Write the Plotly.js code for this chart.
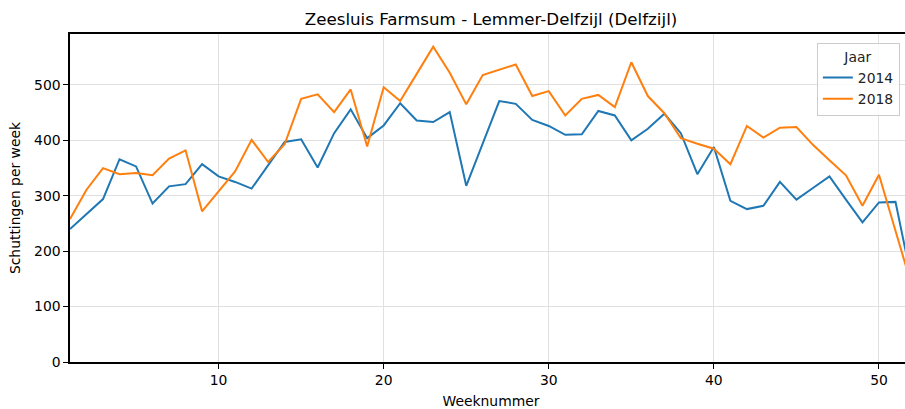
<!DOCTYPE html>
<html>
<head>
<meta charset="utf-8">
<script src="https://cdn.plot.ly/plotly-3.0.1.min.js"></script>
<style>
  html, body { margin: 0; padding: 0; overflow: hidden; background: #fff; }
  #chart { width: 912px; height: 409px; }
</style>
</head>
<body>
<div id="chart"></div>
<script>
const weeks = [1,2,3,4,5,6,7,8,9,10,11,12,13,14,15,16,17,18,19,20,21,22,23,24,25,26,
               27,28,29,30,31,32,33,34,35,36,37,38,39,40,41,42,43,44,45,46,47,48,49,50,51,52];
const values2014 = [240,267,294,366,353,286,317,321,357,335,325,313,355,397,402,351,413,456,404,427,467,436,433,451,318,393,
                    471,466,437,426,410,411,453,445,400,421,448,413,339,388,291,276,282,325,293,314,335,293,252,288,289,145];
const values2018 = [258,311,350,339,341,337,367,382,272,308,344,401,361,393,475,483,451,492,389,496,471,520,569,522,465,518,
                    527,537,480,489,445,475,482,460,541,480,449,404,394,385,357,426,405,423,424,392,364,337,282,338,237,136];
const seriesNames = ["2014", "2018"];
const xTicks = [10, 20, 30, 40, 50];
const yTicks = [0, 100, 200, 300, 400, 500];

const font = "DejaVu Sans, sans-serif";
const traces = [
  { x: weeks, y: values2014, name: seriesNames[0], type: "scatter", mode: "lines",
    line: { color: "#1f77b4", width: 2 } },
  { x: weeks, y: values2018, name: seriesNames[1], type: "scatter", mode: "lines",
    line: { color: "#ff7f0e", width: 2 } }
];

const layout = {
  width: 912, height: 409,
  margin: { l: 70, r: 0, t: 34, b: 47 },
  paper_bgcolor: "#fff", plot_bgcolor: "#fff",
  font: { family: font, size: 13.9, color: "#000" },
  title: { text: "Zeesluis Farmsum - Lemmer-Delfzijl (Delfzijl)", font: { family: font, size: 16.7, color: "#000" },
           x: 0.5, xref: "paper", y: 1 - 19/409, yref: "container", yanchor: "middle" },
  xaxis: {
    range: [1, 52], tickvals: xTicks, ticktext: xTicks.map(String),
    showgrid: true, gridcolor: "#e0e0e0", gridwidth: 1,
    showline: true, linecolor: "#000", linewidth: 1.6, mirror: true,
    ticks: "outside", ticklen: 5, tickwidth: 1, tickcolor: "#000",
    zeroline: false,
    title: { text: "Weeknummer", font: { family: font, size: 13.9 }, standoff: 9 }
  },
  yaxis: {
    range: [0, 592], tickvals: yTicks, ticktext: yTicks.map(String),
    showgrid: true, gridcolor: "#e0e0e0", gridwidth: 1,
    showline: true, linecolor: "#000", linewidth: 1.6, mirror: false,
    ticks: "outside", ticklen: 5, tickwidth: 1, tickcolor: "#000",
    zeroline: false,
    title: { text: "Schuttingen per week", font: { family: font, size: 13.9 }, standoff: 10 }
  },
  showlegend: true,
  legend: {
    x: 0.887, y: 0.9726, xanchor: "left", yanchor: "top",
    bgcolor: "rgba(255,255,255,0.8)", bordercolor: "#cccccc", borderwidth: 1,
    font: { family: font, size: 13.9, color: "#222" },
    title: { text: "Jaar", side: "top center", font: { family: font, size: 13.9, color: "#222" } },
    tracegroupgap: 0
  }
};

Plotly.newPlot("chart", traces, layout, { displayModeBar: false, staticPlot: true });
</script>
</body>
</html>
